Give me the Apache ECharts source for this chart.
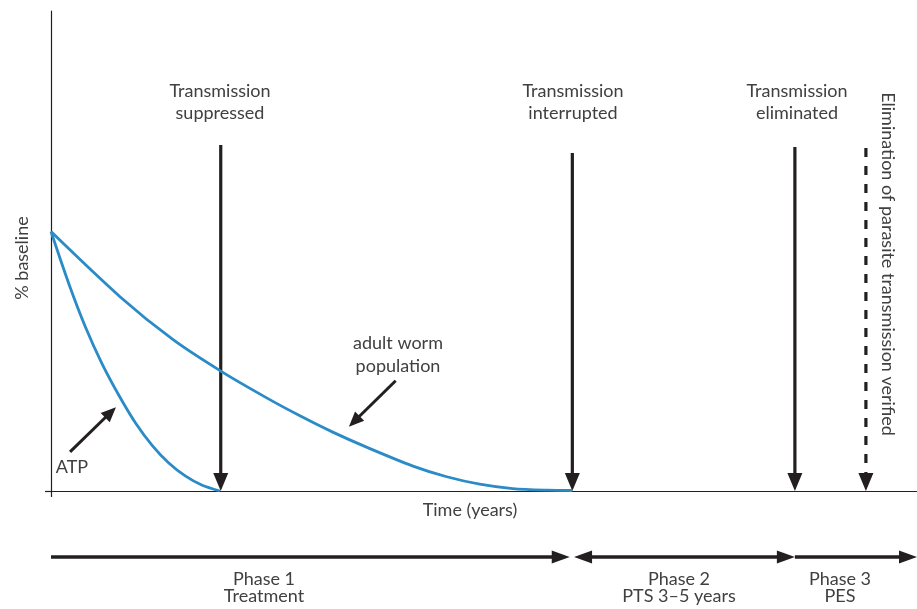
<!DOCTYPE html>
<html>
<head>
<meta charset="utf-8">
<script src="https://cdn.jsdelivr.net/npm/echarts@6/dist/echarts.min.js"></script>
<style>html,body{margin:0;padding:0;background:#fff}#c{width:917px;height:609px}</style>
</head>
<body>
<div id="c"></div>
<script>
// ---- data (x in abstract time units 0..10, y in % baseline) ----
const atpX = [0, 0.21, 0.40, 0.59, 0.79, 0.98, 1.17, 1.36, 1.55, 1.74, 1.95];
const atpY = [100, 79.5, 63, 49, 36.5, 26, 17.5, 10.8, 5.8, 2.3, 0];
const wormX = [0, 0.80, 1.41, 1.97, 2.49, 2.88, 3.26, 3.65, 4.18, 4.57, 4.95, 5.33, 5.73, 6.02];
const wormY = [100, 74.8, 58.3, 46.0, 35.9, 28.9, 22.6, 16.8, 9.6, 5.5, 2.65, 0.94, 0.3, 0.2];
const transitionNames = ['Transmission\nsuppressed', 'Transmission\ninterrupted', 'Transmission\neliminated'];
const transitionX = [1.96, 6.02, 8.59];
const transitionTop = [133.4, 130.3, 132.6];
const verifiedName = 'Elimination of parasite transmission verified';
const verifiedX = [9.41];
const verifiedTop = [132.2];
const pointerNames = ['ATP', 'adult worm\npopulation'];
const pointerFrom = [[0.22, 15.1], [3.98, 42.5]];
const pointerTo = [[0.75, 32.3], [3.44, 24.8]];
const phaseNames = ['Phase 1\nTreatment', 'Phase 2\nPTS 3\u20135 years', 'Phase 3\nPES'];
const phaseStart = [0, 6.04, 8.59];
const phaseEnd = [5.99, 8.59, 10];

const BLUE = '#2a8bc6';
const INK = '#231f20';
const TXT = '#404040';
const FONT = 'Lato';

function arrow(p1, p2, headStart, headEnd, o) {
  const dx = p2[0] - p1[0], dy = p2[1] - p1[1];
  const len = Math.hypot(dx, dy) || 1;
  const ux = dx / len, uy = dy / len, nx = -uy, ny = ux;
  const L = o.headLen, W = o.headWidth / 2;
  let a = p1.slice(), b = p2.slice();
  const ch = [];
  if (headEnd) {
    b = [p2[0] - ux * L * 0.7, p2[1] - uy * L * 0.7];
    ch.push({type: 'polygon', shape: {points: [p2, [p2[0] - ux * L + nx * W, p2[1] - uy * L + ny * W], [p2[0] - ux * L - nx * W, p2[1] - uy * L - ny * W]]}, style: {fill: o.color}});
  }
  if (headStart) {
    a = [p1[0] + ux * L * 0.7, p1[1] + uy * L * 0.7];
    ch.push({type: 'polygon', shape: {points: [p1, [p1[0] + ux * L + nx * W, p1[1] + uy * L + ny * W], [p1[0] + ux * L - nx * W, p1[1] + uy * L - ny * W]]}, style: {fill: o.color}});
  }
  ch.unshift({type: 'line', shape: {x1: a[0], y1: a[1], x2: b[0], y2: b[1]}, style: {stroke: o.color, lineWidth: o.lineWidth, lineDash: o.dash || null, fill: null}});
  return {type: 'group', children: ch};
}

function txt(text, x, y, lh, rot) {
  return {type: 'text', x: x, y: y, rotation: rot || 0, silent: true,
    style: {text: text, x: 0, y: 0, fill: TXT, fontFamily: FONT, fontSize: 18, align: 'center', verticalAlign: 'middle', lineHeight: lh || 22}};
}

const chart = echarts.init(document.getElementById('c'), null, {renderer: 'canvas'});
chart.setOption({
  animation: false,
  backgroundColor: '#fff',
  grid: [
    {left: 51, right: 0, top: 11, bottom: 118},
    {left: 51, right: 0, top: 547, height: 20}
  ],
  xAxis: [
    {type: 'value', gridIndex: 0, min: 0, max: 10,
     axisLine: {show: true, onZero: false, lineStyle: {color: INK, width: 1.2}},
     axisTick: {show: true, customValues: [0], length: 6, lineStyle: {color: INK, width: 1.2}},
     axisLabel: {show: false}, splitLine: {show: false}},
    {type: 'value', gridIndex: 1, min: 0, max: 10, show: false}
  ],
  yAxis: [
    {type: 'value', gridIndex: 0, min: 0, max: 185,
     axisLine: {show: true, onZero: false, lineStyle: {color: INK, width: 1.2}},
     axisTick: {show: true, customValues: [0], length: 6, lineStyle: {color: INK, width: 1.2}},
     axisLabel: {show: false}, splitLine: {show: false}},
    {type: 'value', gridIndex: 1, min: 0, max: 2, show: false}
  ],
  series: [
    {type: 'line', name: 'ATP', xAxisIndex: 0, yAxisIndex: 0, smooth: 0.3, showSymbol: false, symbol: 'none',
     lineStyle: {color: BLUE, width: 2.8}, data: atpX.map((x, i) => [x, atpY[i]])},
    {type: 'line', name: 'adult worm population', xAxisIndex: 0, yAxisIndex: 0, smooth: 0.3, showSymbol: false, symbol: 'none',
     lineStyle: {color: BLUE, width: 2.8}, data: wormX.map((x, i) => [x, wormY[i]])},
    {type: 'custom', name: 'transitions', xAxisIndex: 0, yAxisIndex: 0, clip: false,
     data: transitionX.map((x, i) => [x, transitionTop[i]]),
     renderItem: function (params, api) {
       const p1 = api.coord([api.value(0), api.value(1)]);
       const p2 = api.coord([api.value(0), 0]);
       return arrow(p1, p2, false, true, {color: INK, lineWidth: 3.2, headLen: 18, headWidth: 15});
     }},
    {type: 'custom', name: 'verified', xAxisIndex: 0, yAxisIndex: 0, clip: false,
     data: verifiedX.map((x, i) => [x, verifiedTop[i]]),
     renderItem: function (params, api) {
       const p1 = api.coord([api.value(0), api.value(1)]);
       const p2 = api.coord([api.value(0), 0]);
       return arrow(p1, p2, false, true, {color: INK, lineWidth: 3.2, headLen: 18, headWidth: 15, dash: [9, 9]});
     }},
    {type: 'custom', name: 'pointers', xAxisIndex: 0, yAxisIndex: 0, clip: false,
     data: pointerFrom.map((f, i) => [f[0], f[1], pointerTo[i][0], pointerTo[i][1]]),
     renderItem: function (params, api) {
       const p1 = api.coord([api.value(0), api.value(1)]);
       const p2 = api.coord([api.value(2), api.value(3)]);
       return arrow(p1, p2, false, true, {color: INK, lineWidth: 3, headLen: 15, headWidth: 13});
     }},
    {type: 'custom', name: 'phases', xAxisIndex: 1, yAxisIndex: 1, clip: false,
     data: phaseStart.map((s, i) => [s, phaseEnd[i]]),
     renderItem: function (params, api) {
       const p1 = api.coord([api.value(0), 1]);
       const p2 = api.coord([api.value(1), 1]);
       return arrow(p1, p2, params.dataIndex === 1, true, {color: INK, lineWidth: 3.5, headLen: 18, headWidth: 13});
     }}
  ],
  graphic: [
    txt('% baseline', 22, 258, 22, Math.PI / 2),
    txt('Time (years)', 470, 510),
    txt(transitionNames[0], 220, 102),
    txt(transitionNames[1], 573, 102),
    txt(transitionNames[2], 797, 102),
    txt(verifiedName, 888, 264, 22, -Math.PI / 2),
    txt(pointerNames[0], 72, 467),
    txt(pointerNames[1], 398, 354.5, 23),
    txt(phaseNames[0], 264, 588, 17),
    txt(phaseNames[1], 679, 588, 17),
    txt(phaseNames[2], 840, 588, 17)
  ]
});
</script>
</body>
</html>
